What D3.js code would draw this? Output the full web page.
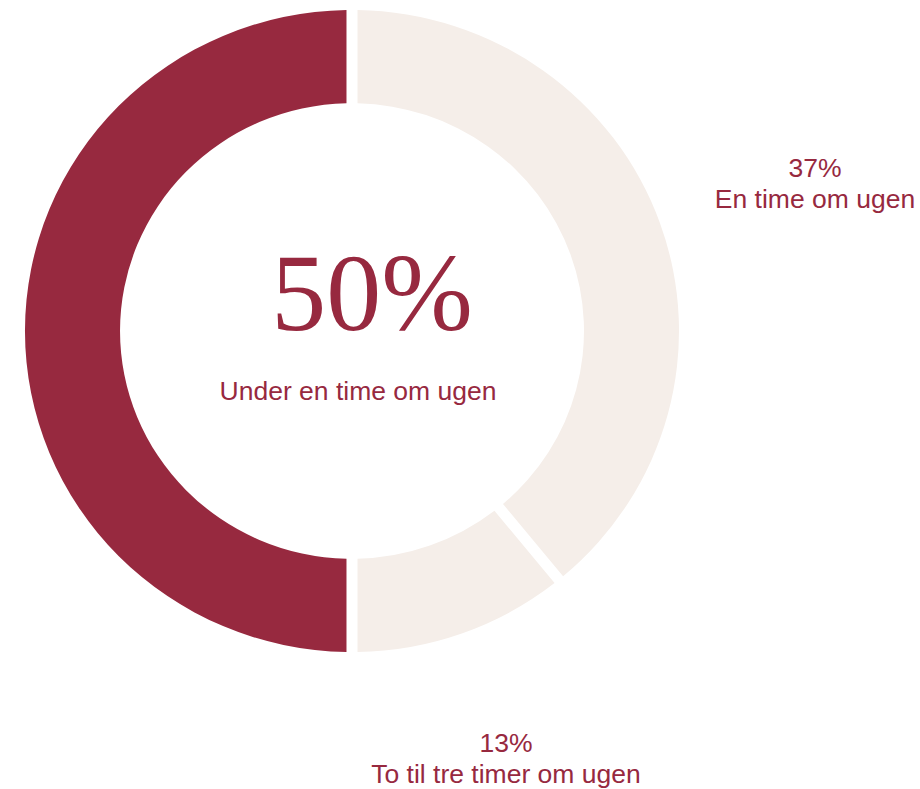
<!DOCTYPE html>
<html>
<head>
<meta charset="utf-8">
<script src="https://cdn.jsdelivr.net/npm/d3@7"></script>
<style>
  body { margin: 0; background: #fff; }
  svg { display: block; }
</style>
</head>
<body>
<div id="chart"></div>
<script>
{ // limit scope...
// Categories, in drawing order (clockwise from the top of the left half).
const categories = ["Under en time om ugen", "En time om ugen", "To til tre timer om ugen"];
// Printed percentages.
const pctLabels = [50, 37, 13];
// Share of the ring each slice covers.
const arcValues = [50, 39.1, 10.9];

const width = 920,
      height = 789;

const cx = 352, cy = 331,
      outer = 327, inner = 232;

const dark = "#97293f",
      light = "#f5eee9";

const svg = d3.select("#chart").append("svg")
    .attr("width", width)
    .attr("height", height)
    .attr("viewBox", [0, 0, width, height]);

const pie = d3.pie()
    .sort(null)
    .value(d => d.value)
    .startAngle(Math.PI)
    .endAngle(3 * Math.PI);

const arc = d3.arc()
    .innerRadius(inner)
    .outerRadius(outer)
    .padAngle(0.0275);

const rows = categories.map((c, i) => ({ name: c, pct: pctLabels[i], value: arcValues[i] }));

// Ring is a touch flatter than wide in the original.
const ring = svg.append("g")
    .attr("transform", `translate(${cx},${cy}) scale(1,0.982)`);

ring.selectAll("path")
    .data(pie(rows))
    .join("path")
        .attr("d", arc)
        .attr("fill", (d, i) => i == 0 ? dark : light);

// Centre label for the main slice.
svg.append("text")
    .attr("x", 372)
    .attr("y", 330)
    .attr("text-anchor", "middle")
    .attr("font-family", "'Liberation Serif', 'Times New Roman', serif")
    .attr("font-size", 110)
    .attr("fill", dark)
    .text(`${rows[0].pct}%`);

svg.append("text")
    .attr("x", 358)
    .attr("y", 400)
    .attr("text-anchor", "middle")
    .attr("font-family", "'Liberation Sans', Arial, sans-serif")
    .attr("font-size", 26.5)
    .attr("fill", dark)
    .text(rows[0].name);

// Outside labels for the other two slices.
const outside = [
    { x: 815, y: 177 },
    { x: 506, y: 752 }
];

rows.slice(1).forEach((d, i) => {
    const t = svg.append("text")
        .attr("text-anchor", "middle")
        .attr("font-family", "'Liberation Sans', Arial, sans-serif")
        .attr("font-size", 26.5)
        .attr("fill", dark);
    t.append("tspan")
        .attr("x", outside[i].x)
        .attr("y", outside[i].y)
        .text(`${d.pct}%`);
    t.append("tspan")
        .attr("x", outside[i].x)
        .attr("dy", 31)
        .text(d.name);
});
}
</script>
</body>
</html>
